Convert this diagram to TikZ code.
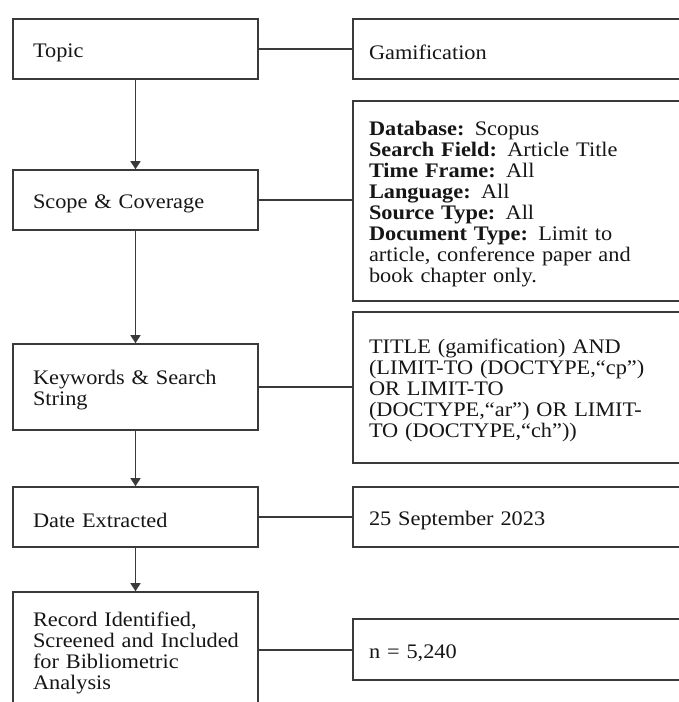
\documentclass[tikz,border=0pt]{standalone}
\usepackage{fontspec}
\setmainfont{Liberation Serif}[FakeStretch=1.08]
\usetikzlibrary{arrows.meta}
\definecolor{ln}{HTML}{3A3A3A}
\definecolor{tx}{HTML}{161616}
\newcommand{\myboxfont}{\fontsize{15.5pt}{15.75pt}\selectfont}
\newcommand{\tstrut}{\rule{0pt}{16pt}}
\begin{document}
\begin{tikzpicture}[x=0.75pt,y=-0.75pt,
  box/.style={draw=ln, line width=1.2pt, text=tx, align=left, anchor=center,
    font=\myboxfont},
  lbox/.style={box, text width=153.75pt, inner xsep=15pt},
  rbox/.style={box, text width=236.25pt, inner xsep=12pt},
  conn/.style={draw=ln, line width=1pt},
  arr/.style={conn, -{Triangle[length=6pt,width=7.5pt]}}]
\useasboundingbox (0,0) rectangle (678,702);
\fill[white] (0,0) rectangle (678,702);
% left column
\node[lbox, minimum height=45pt] (topic) at (135.5,49) {\tstrut Topic};
\node[lbox, minimum height=45pt] (scope) at (135.5,200) {\tstrut Scope \& Coverage};
\node[lbox, minimum height=64.5pt] (kw) at (135.5,387) {\tstrut Keywords \& Search\\String};
\node[lbox, minimum height=87pt] (rec) at (135.5,650) {\tstrut Record Identified,\\\mbox{Screened and Included}\\for Bibliometric\\Analysis};
\node[lbox, minimum height=45pt] (date) at (135.5,517) {\tstrut Date Extracted};
% right column
\node[rbox, minimum height=45pt] (gam) at (526.5,49) {\tstrut Gamification};
\node[rbox, minimum height=150pt] (cov) at (526.5,201) {\tstrut\textbf{Database:} Scopus\\\textbf{Search Field:} Article Title\\\textbf{Time Frame:} All\\\textbf{Language:} All\\\textbf{Source Type:} All\\\textbf{Document Type:} Limit to\\article, conference paper and\\book chapter only.};
\node[rbox, minimum height=113.25pt] (str) at (526.5,387.5) {\tstrut TITLE (gamification) AND\\(LIMIT-TO (DOCTYPE,“cp”)\\OR LIMIT-TO\\(DOCTYPE,“ar”) OR LIMIT-\\TO (DOCTYPE,“ch”))};
\node[rbox, minimum height=45pt] (dte) at (526.5,517) {\tstrut 25 September 2023};
\node[rbox, minimum height=45.75pt] (num) at (526.5,649.5) {\tstrut n = 5,240};
% arrows
\draw[arr] (topic.south) -- (scope.north);
\draw[arr] (scope.south) -- (kw.north);
\draw[arr] (kw.south) -- (date.north);
\draw[arr] (date.south) -- (rec.north);
% connectors
\draw[conn] (topic.east) -- (topic.east -| gam.west);
\draw[conn] (scope.east) -- (scope.east -| cov.west);
\draw[conn] (kw.east) -- (kw.east -| str.west);
\draw[conn] (date.east) -- (date.east -| dte.west);
\draw[conn] (rec.east) -- (rec.east -| num.west);
\end{tikzpicture}
\end{document}
